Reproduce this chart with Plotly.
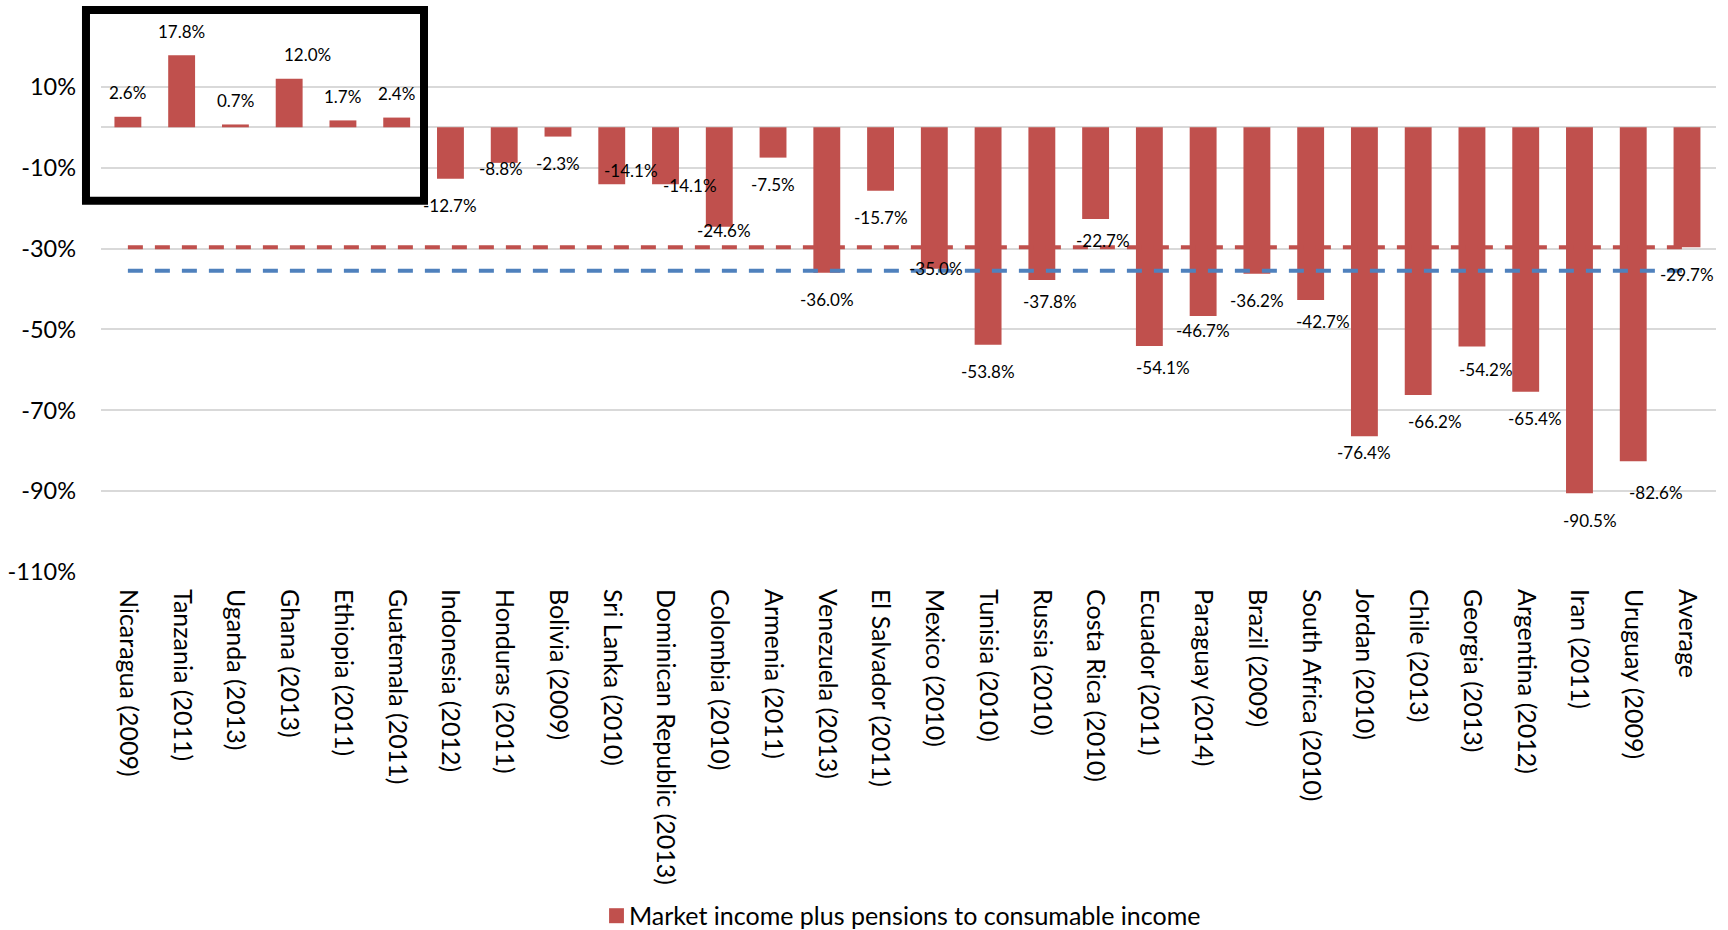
import plotly.graph_objects as go

# Countries (survey year) and the change from market income plus pensions to consumable income, in %
categories = [
    "Nicaragua (2009)", "Tanzania (2011)", "Uganda (2013)", "Ghana (2013)",
    "Ethiopia (2011)", "Guatemala (2011)", "Indonesia (2012)", "Honduras (2011)",
    "Bolivia (2009)", "Sri Lanka (2010)", "Dominican Republic (2013)",
    "Colombia (2010)", "Armenia (2011)", "Venezuela (2013)", "El Salvador (2011)",
    "Mexico (2010)", "Tunisia (2010)", "Russia (2010)", "Costa Rica (2010)",
    "Ecuador (2011)", "Paraguay (2014)", "Brazil (2009)", "South Africa (2010)",
    "Jordan (2010)", "Chile (2013)", "Georgia (2013)", "Argentina (2012)",
    "Iran (2011)", "Uruguay (2009)", "Average",
]
values = [
    2.6, 17.8, 0.7, 12.0, 1.7, 2.4, -12.7, -8.8, -2.3, -14.1, -14.1, -24.6,
    -7.5, -36.0, -15.7, -35.0, -53.8, -37.8, -22.7, -54.1, -46.7, -36.2,
    -42.7, -76.4, -66.2, -54.2, -65.4, -90.5, -82.6, -29.7,
]
average_level = -29.7
comparison_level = -35.5
y_ticks = [10, -10, -30, -50, -70, -90, -110]
series_name = "Market income plus pensions to consumable income"

BAR_RED = "#C0504D"
LINE_BLUE = "#4F81BD"
FONT = "Lato, 'Open Sans', sans-serif"

# Pixel nudges (right, down) for labels that sit off their default spot
label_nudge = {
    "Ghana (2013)": (18, 0),
    "Honduras (2011)": (-3, -21),
    "Sri Lanka (2010)": (19, -41),
    "Dominican Republic (2013)": (24, -26),
    "Colombia (2010)": (5, -23),
    "Mexico (2010)": (2, -27),
    "Russia (2010)": (8, -6),
    "Costa Rica (2010)": (7, -6),
    "Ecuador (2011)": (14, -6),
    "Paraguay (2014)": (0, -13),
    "South Africa (2010)": (12, -5),
    "Jordan (2010)": (0, -11),
    "Chile (2013)": (17, 0),
    "Georgia (2013)": (14, -4),
    "Argentina (2012)": (9, 0),
    "Iran (2011)": (11, 0),
    "Uruguay (2009)": (23, 4),
}

fig = go.Figure()

fig.add_trace(go.Bar(
    x=categories, y=values, name=series_name,
    marker=dict(color=BAR_RED, line=dict(width=0)),
    showlegend=False,
))

# Horizontal reference levels across the categories
fig.add_trace(go.Scatter(
    x=[categories[0], categories[-1]], y=[average_level, average_level],
    mode="lines", line=dict(color=BAR_RED, width=4, dash="15px,12px"),
    showlegend=False, hoverinfo="skip",
))
fig.add_trace(go.Scatter(
    x=[categories[0], categories[-1]], y=[comparison_level, comparison_level],
    mode="lines", line=dict(color=LINE_BLUE, width=4, dash="15px,12px"),
    showlegend=False, hoverinfo="skip",
))

annotations = []
for cat, v in zip(categories, values):
    dx, dy = label_nudge.get(cat, (0, 0))
    base = 24 if v >= 0 else -27
    annotations.append(dict(
        x=cat, y=v, xref="x", yref="y", text=f"{v:.1f}%", showarrow=False,
        xanchor="center", yanchor="middle", xshift=dx, yshift=base - dy,
        font=dict(family=FONT, size=17, color="#000000"),
    ))

# Legend entry
annotations.append(dict(
    x=0.326, y=-0.6063, xref="paper", yref="paper", text=series_name,
    showarrow=False, xanchor="left", yanchor="middle",
    font=dict(family=FONT, size=25, color="#000000"),
))

shapes = [
    dict(type="rect", xref="paper", yref="paper",
         x0=0.3146, x1=0.3238, y0=-0.6205, y1=-0.594,
         fillcolor=BAR_RED, line=dict(width=0)),
    # Highlight frame around the positive-valued countries
    dict(type="rect", xref="paper", yref="paper",
         x0=-0.0093, x1=0.2, y0=0.6558, y1=0.9929,
         line=dict(color="#000000", width=8), fillcolor="rgba(0,0,0,0)",
         layer="above"),
]

fig.update_layout(
    width=1728, height=930,
    margin=dict(l=101, r=12, t=6, b=357.5),
    paper_bgcolor="white", plot_bgcolor="white",
    bargap=0.5,
    font=dict(family=FONT, color="#000000"),
    annotations=annotations, shapes=shapes,
    showlegend=False,
)
fig.update_yaxes(
    range=[-110, 30], tickvals=y_ticks, ticktext=[f"{t}%" for t in y_ticks],
    showgrid=True, gridcolor="#D9D9D9", gridwidth=1.5,
    zeroline=True, zerolinecolor="#D9D9D9", zerolinewidth=1.5,
    showline=False, ticks="", ticklabelstandoff=24,
    tickfont=dict(family=FONT, size=23.5, color="#000000"),
)
fig.update_xaxes(
    type="category", tickangle=90, showgrid=False, showline=False, ticks="",
    ticklabelstandoff=16,
    tickfont=dict(family=FONT, size=25, color="#000000"),
)

fig.write_html("out.html")
